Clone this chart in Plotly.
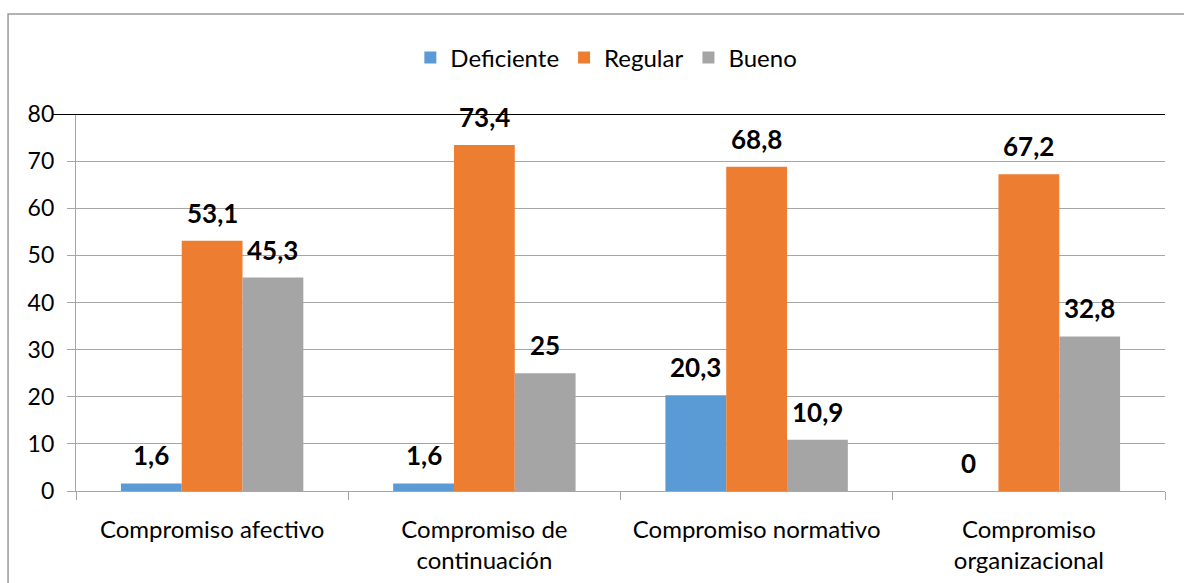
import plotly.graph_objects as go

categories = ["Compromiso afectivo", "Compromiso de<br>continuación",
              "Compromiso normativo", "Compromiso<br>organizacional"]
series_names = ["Deficiente", "Regular", "Bueno"]
deficiente = [1.6, 1.6, 20.3, 0]
regular = [53.1, 73.4, 68.8, 67.2]
bueno = [45.3, 25, 10.9, 32.8]
y_ticks = [0, 10, 20, 30, 40, 50, 60, 70, 80]

colors = ["#5B9BD5", "#ED7D31", "#A5A5A5"]
series = [deficiente, regular, bueno]
FONT = "Lato, 'Open Sans', sans-serif"
BARGAP = 0.33

def fmt(v):
    return f"{v:g}".replace(".", ",")

fig = go.Figure()
for name, vals, col in zip(series_names, series, colors):
    fig.add_trace(go.Bar(name=name, x=categories, y=vals, marker_color=col,
                         marker_line_width=0))

w = (1 - BARGAP) / 3
annotations = []
for i, vals in enumerate(series):
    for j, v in enumerate(vals):
        annotations.append(dict(x=j + (i - 1) * w, y=v, xref="x", yref="y",
                                text=f"<b>{fmt(v)}</b>", showarrow=False,
                                yanchor="bottom", yshift=10,
                                font=dict(size=26, color="black", family=FONT)))

fig.update_layout(
    width=1184, height=583,
    margin=dict(l=76, r=19, t=114, b=92),
    paper_bgcolor="white", plot_bgcolor="white",
    barmode="group", bargap=BARGAP, bargroupgap=0,
    font=dict(family=FONT, size=23, color="black"),
    legend=dict(orientation="h", x=0.487, xanchor="center", y=1.149, yanchor="middle",
                font=dict(size=24, family=FONT), traceorder="normal"),
    annotations=annotations,
    shapes=[
        dict(type="rect", xref="paper", yref="paper",
             x0=-0.0624, x1=1.05, y0=-0.4, y1=1.265,
             line=dict(color="#999999", width=1.5), layer="below"),
        dict(type="line", xref="paper", yref="y", x0=-0.022, x1=1, y0=80, y1=80,
             line=dict(color="black", width=2.2)),
    ],
)
fig.update_yaxes(range=[0, 80], tickvals=y_ticks, showgrid=True, gridcolor="#A6A6A6",
                 gridwidth=1.3, showline=True, linecolor="#A6A6A6", linewidth=1.3,
                 ticks="outside", ticklen=8, tickcolor="#A6A6A6", tickwidth=1.3,
                 ticklabelstandoff=8, zeroline=False, tickfont=dict(size=23),
                 automargin=False)
fig.update_xaxes(showline=True, linecolor="#A6A6A6", linewidth=1.3, ticks="outside",
                 tickson="boundaries", ticklen=8, tickcolor="#A6A6A6", tickwidth=1.3,
                 ticklabelstandoff=17, tickfont=dict(size=24), automargin=False)

fig.write_html("out.html")
